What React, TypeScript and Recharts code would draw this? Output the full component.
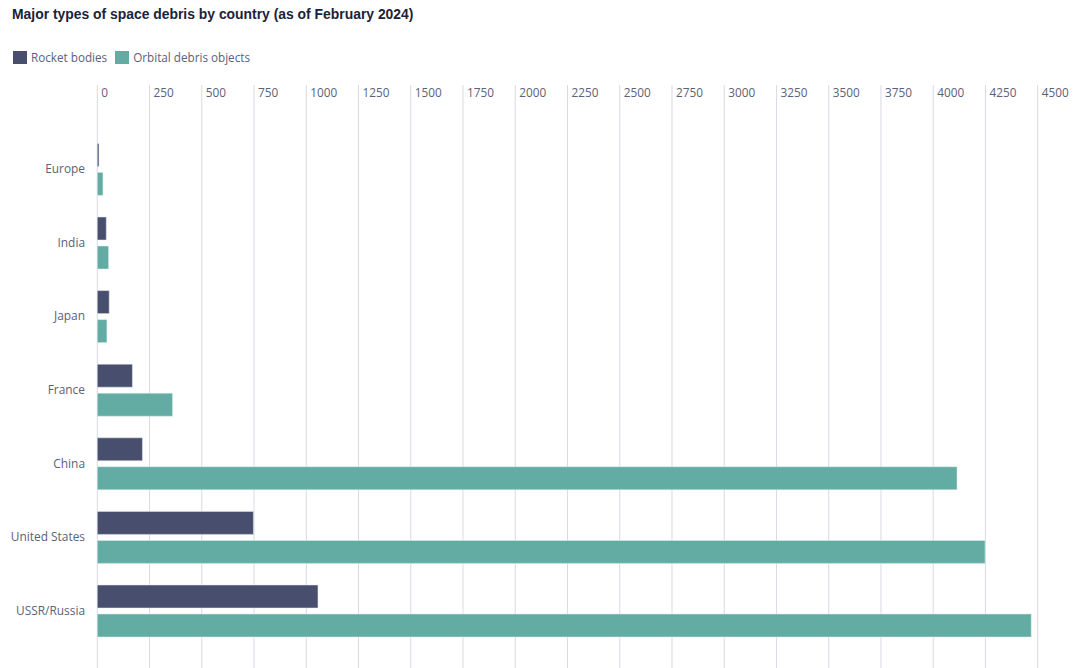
import React from "react";
import { BarChart, Bar, XAxis, YAxis, CartesianGrid } from "recharts";

const countries = ["Europe", "India", "Japan", "France", "China", "United States", "USSR/Russia"];
const rocketBodies = [8, 43, 57, 168, 216, 747, 1056];
const orbitalDebris = [27, 54, 46, 360, 4114, 4248, 4469];
const xTicks = [0, 250, 500, 750, 1000, 1250, 1500, 1750, 2000, 2250, 2500, 2750, 3000, 3250, 3500, 3750, 4000, 4250, 4500];

const data = countries.map((c, i) => ({ country: c, rocket: rocketBodies[i], orbital: orbitalDebris[i] }));

const ROCKET = "#484f6e";
const ORBITAL = "#62aca4";
const TEXT = "#5b6178";
const FONT = "'Open Sans', 'Noto Sans', sans-serif";

const XTick = (props: any) => {
  const { x, payload } = props;
  return (
    <text x={x + 4} y={97} fill={TEXT} fontSize={11.8} fontFamily={FONT} textAnchor="start">
      {payload.value}
    </text>
  );
};

const YTick = (props: any) => {
  const { y, payload } = props;
  return (
    <text x={85} y={y + 4} fill={TEXT} fontSize={11.9} fontFamily={FONT} textAnchor="end">
      {payload.value}
    </text>
  );
};

export default function App() {
  return (
    <div style={{ position: "absolute", left: 0, top: 0, width: 1083, height: 668, background: "#fff", overflow: "hidden" }}>
      <div
        style={{
          position: "absolute",
          left: 12,
          top: 6,
          fontFamily: "'Liberation Sans', Arial, sans-serif",
          fontWeight: 700,
          fontSize: 13.9,
          color: "#1b2238",
          whiteSpace: "nowrap",
        }}
      >
        Major types of space debris by country (as of February 2024)
      </div>
      <div
        style={{
          position: "absolute",
          left: 13,
          top: 49,
          display: "flex",
          alignItems: "center",
          fontFamily: FONT,
          fontSize: 11.7,
          color: TEXT,
          whiteSpace: "nowrap",
        }}
      >
        <span style={{ display: "inline-block", width: 14, height: 13, background: ROCKET, marginRight: 4 }} />
        <span style={{ marginRight: 8 }}>Rocket bodies</span>
        <span style={{ display: "inline-block", width: 14, height: 13, background: ORBITAL, marginRight: 4 }} />
        <span>Orbital debris objects</span>
      </div>
      <div style={{ position: "absolute", left: 0, top: 0 }}>
        <BarChart
          width={1083}
          height={668}
          data={data}
          layout="vertical"
          margin={{ top: 55, right: 45.3, bottom: 0, left: 0 }}
          barSize={23}
          barGap={6}
        >
          <CartesianGrid horizontal={false} vertical={true} stroke="#d9dae3" strokeWidth={1} />
          <XAxis
            type="number"
            orientation="top"
            domain={[0, 4500]}
            ticks={xTicks}
            height={30}
            axisLine={false}
            tickLine={false}
            tick={<XTick />}
            interval={0}
          />
          <YAxis
            type="category"
            dataKey="country"
            width={97.3}
            axisLine={false}
            tickLine={false}
            tick={<YTick />}
            padding={{ top: 47.4, bottom: 20.4 }}
            interval={0}
          />
          <Bar dataKey="rocket" fill={ROCKET} stroke="#e8eaf0" strokeWidth={0.5} isAnimationActive={false} />
          <Bar dataKey="orbital" fill={ORBITAL} stroke="#e0f0ee" strokeWidth={0.5} isAnimationActive={false} />
        </BarChart>
      </div>
    </div>
  );
}
